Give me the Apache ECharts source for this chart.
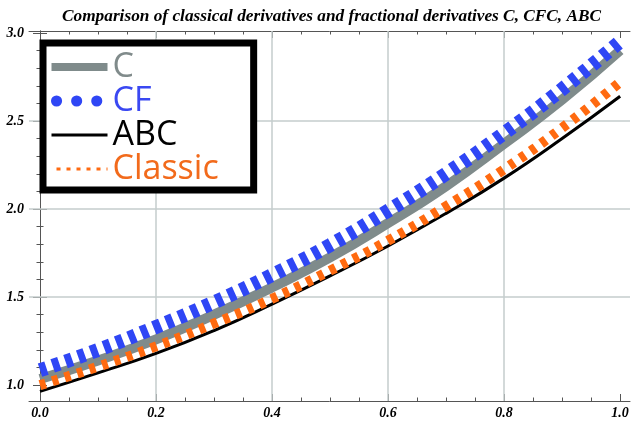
<!DOCTYPE html>
<html>
<head>
<meta charset="utf-8">
<script src="https://cdn.jsdelivr.net/npm/echarts@6/dist/echarts.min.js"></script>
<style>
  html, body { margin: 0; padding: 0; background: #fff; }
  #chart { width: 640px; height: 425px; }
</style>
</head>
<body>
<div id="chart"></div>
<script>
// values, x = 0 .. 1 step 0.1
var xs      = [0, 0.1, 0.2, 0.3, 0.4, 0.5, 0.6, 0.7, 0.8, 0.9, 1.0];
var cVals   = [1.035, 1.14, 1.26, 1.40, 1.555, 1.725, 1.92, 2.13, 2.37, 2.62, 2.90];
var cfVals  = [1.085, 1.20, 1.33, 1.47, 1.625, 1.795, 1.99, 2.20, 2.43, 2.68, 2.95];
var abcVals = [0.965, 1.07, 1.18, 1.31, 1.46, 1.62, 1.79, 1.975, 2.175, 2.40, 2.64];
var clsVals = [1.00, 1.105, 1.22, 1.35, 1.49, 1.65, 1.82, 2.015, 2.225, 2.46, 2.72];

// grid lines and axis ranges
var gridX = [0.2, 0.4, 0.6, 0.8];
var gridY = [1.5, 2.0, 2.5];
var xRange = [-0.019, 1.017];
var yRange = [0.91, 3.01];

var titleText = 'Comparison of classical derivatives and fractional derivatives C, CFC, ABC';

function pairs(ys) {
    var res = [];
    for (var i = 0; i < xs.length; i++) {
        res.push([xs[i], ys[i]]);
    }
    return res;
}

var tickFont = {
    fontFamily: 'Liberation Serif',
    fontStyle: 'italic',
    fontWeight: 'bold',
    fontSize: 14,
    color: '#000'
};
var frameLine = { show: true, lineStyle: { color: '#555', width: 1 } };
var majorTick = { show: true, inside: true, length: 7, lineStyle: { color: '#555', width: 1 } };
var minorStyle = { color: '#555', width: 1 };

var chart = echarts.init(document.getElementById('chart'));

var option = {
    backgroundColor: '#fff',
    animation: false,
    title: {
        text: titleText,
        left: 57,
        top: 3,
        textStyle: {
            fontFamily: 'Liberation Serif',
            fontStyle: 'italic',
            fontWeight: 'bold',
            fontSize: 17.3,
            color: '#000'
        }
    },
    // grid 0 = the frame and the curves, grid 1 = ticks and labels
    grid: [
        { left: 29, right: 10, top: 31, bottom: 24 },
        { left: 40, right: 20, top: 33, bottom: 40 }
    ],
    xAxis: [
        { gridIndex: 0, type: 'value', min: xRange[0], max: xRange[1], position: 'bottom',
          axisLine: frameLine, axisTick: { show: false }, axisLabel: { show: false }, splitLine: { show: false } },
        { gridIndex: 0, type: 'value', min: xRange[0], max: xRange[1], position: 'top',
          axisLine: frameLine, axisTick: { show: false }, axisLabel: { show: false }, splitLine: { show: false } },
        { gridIndex: 1, type: 'value', min: 0, max: 1, interval: 0.2, position: 'bottom', offset: 16,
          axisLine: { show: false }, axisTick: majorTick,
          minorTick: { show: true, splitNumber: 4, length: 3.5, lineStyle: minorStyle },
          axisLabel: Object.assign({ margin: 5, formatter: function (v) { return v.toFixed(1); } }, tickFont),
          splitLine: { show: false }, minorSplitLine: { show: false } },
        { gridIndex: 1, type: 'value', min: 0, max: 1, interval: 0.2, position: 'top', offset: 2,
          axisLine: { show: false }, axisTick: majorTick,
          minorTick: { show: true, splitNumber: 4, length: 3.5, lineStyle: minorStyle },
          axisLabel: { show: false }, splitLine: { show: false } }
    ],
    yAxis: [
        { gridIndex: 0, type: 'value', min: yRange[0], max: yRange[1], position: 'left',
          axisLine: frameLine, axisTick: { show: false }, axisLabel: { show: false }, splitLine: { show: false } },
        { gridIndex: 0, type: 'value', min: yRange[0], max: yRange[1], position: 'right',
          axisLine: frameLine, axisTick: { show: false }, axisLabel: { show: false }, splitLine: { show: false } },
        { gridIndex: 1, type: 'value', min: 1, max: 3, interval: 0.5, position: 'left', offset: 11,
          axisLine: { show: false }, axisTick: majorTick,
          minorTick: { show: true, splitNumber: 5, length: 3.5, lineStyle: minorStyle },
          axisLabel: Object.assign({ margin: 5, formatter: function (v) { return v.toFixed(1); } }, tickFont),
          splitLine: { show: false } },
        { gridIndex: 1, type: 'value', min: 1, max: 3, interval: 0.5, position: 'right', offset: 10,
          axisLine: { show: false }, axisTick: majorTick,
          minorTick: { show: true, splitNumber: 5, length: 3.5, lineStyle: minorStyle },
          axisLabel: { show: false }, splitLine: { show: false } }
    ],
    legend: {
        orient: 'vertical',
        left: 43,
        top: 43,
        padding: [7, 35, 4, 3],
        itemGap: 0,
        itemWidth: 56,
        itemHeight: 22,
        backgroundColor: '#fff',
        borderColor: '#000',
        borderWidth: 7,
        borderRadius: 0,
        selectedMode: false,
        z: 20,
        // hide the symbol the line series puts in the middle of its icon
        itemStyle: { color: 'rgba(0,0,0,0)', borderWidth: 0, opacity: 0 },
        textStyle: { fontFamily: 'Open Sans', fontSize: 34, lineHeight: 31 },
        data: [
            { name: 'C', textStyle: { color: '#808b8b' },
              lineStyle: { width: 8 } },
            { name: 'CF', textStyle: { color: '#3a48f2' },
              lineStyle: { width: 11, type: [0.1, 20], cap: 'round', dashOffset: -5 } },
            { name: 'ABC', textStyle: { color: '#000' },
              lineStyle: { width: 3 } },
            { name: 'Classic', textStyle: { color: '#f26a1b' },
              lineStyle: { width: 3, type: [4, 6], cap: 'butt' } }
        ]
    },
    series: [
        {
            // only carries the grid lines
            name: 'grid',
            type: 'line',
            xAxisIndex: 0,
            yAxisIndex: 0,
            data: [],
            silent: true,
            z: 1,
            markLine: {
                silent: true,
                symbol: 'none',
                animation: false,
                label: { show: false },
                lineStyle: { color: '#c5cccc', width: 1.5, type: 'solid' },
                data: gridX.map(function (v) { return { xAxis: v }; })
                    .concat(gridY.map(function (v) { return { yAxis: v }; }))
            }
        },
        {
            name: 'ABC', type: 'line', xAxisIndex: 0, yAxisIndex: 0,
            data: pairs(abcVals), smooth: true, symbol: 'none', z: 10,
            itemStyle: { color: '#000' },
            lineStyle: { color: '#000', width: 3 }
        },
        {
            name: 'C', type: 'line', xAxisIndex: 0, yAxisIndex: 0,
            data: pairs(cVals), smooth: true, symbol: 'none', z: 11,
            itemStyle: { color: '#7f8b8b' },
            lineStyle: { color: '#7f8b8b', width: 10 }
        },
        {
            name: 'Classic', type: 'line', xAxisIndex: 0, yAxisIndex: 0,
            data: pairs(clsVals), smooth: true, symbol: 'none', z: 12,
            itemStyle: { color: '#ff6a10' },
            lineStyle: { color: '#ff6a10', width: 10, type: [6, 7], cap: 'butt' }
        },
        {
            name: 'CF', type: 'line', xAxisIndex: 0, yAxisIndex: 0,
            data: pairs(cfVals), smooth: true, symbol: 'none', z: 13,
            itemStyle: { color: '#2f46f5' },
            lineStyle: { color: '#2f46f5', width: 14, type: [7, 6.5], cap: 'butt' }
        }
    ]
};

chart.setOption(option);
</script>
</body>
</html>
